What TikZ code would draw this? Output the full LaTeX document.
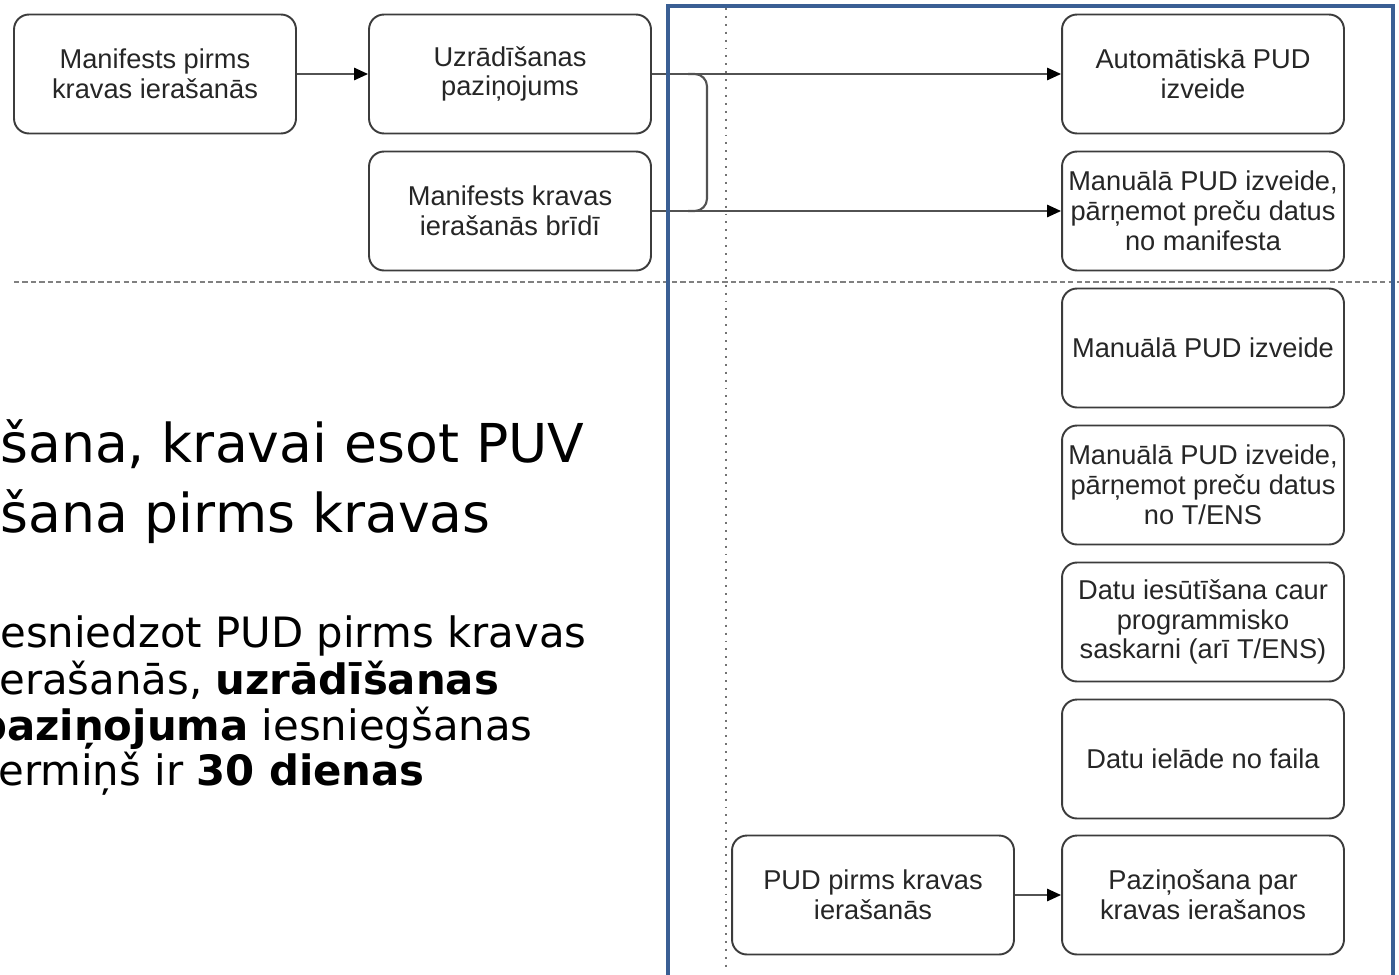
\documentclass[tikz,border=0pt]{standalone}
\usepackage{fontspec}
\setmainfont{Liberation Sans}
\newfontfamily\slidefont{DejaVu Sans}
\usetikzlibrary{arrows.meta}

\definecolor{frameblue}{HTML}{3A5F94}
\definecolor{boxgray}{HTML}{3C3C3C}

\begin{document}
\begin{tikzpicture}[x=0.02cm, y=-0.02cm]

      \useasboundingbox (0,0) rectangle (1399,974);
      \clip (0,0) rectangle (1399,974);

      \draw[black!50, line width=1.2pt, dash pattern=on 3pt off 1.8pt] (14,282) -- (1399,282);
      \draw[black!55, line width=1.3pt, dash pattern=on 1.1pt off 3.4pt] (726,8) -- (726,968);

      \begin{scope}[every node/.style={draw=boxgray, line width=1.1pt, rounded corners=8.5pt, fill=white,
          minimum width=5.64cm, minimum height=2.38cm, inner sep=1pt, align=center, text=black!85,
          font=\fontsize{15.5}{17}\selectfont}]
        \node (manpre)   at (155,74)  {Manifests pirms\\kravas ierašanās};
        \node (uzr)      at (510,74)  {Uzrādīšanas\\paziņojums};
        \node (manbr)    at (510,211) {Manifests kravas\\ierašanās brīdī};
        \node (auto)     at (1203,74)  {Automātiskā PUD\\izveide};
        \node (manmf)    at (1203,211) {Manuālā PUD izveide,\\pārņemot preču datus\\no manifesta};
        \node (manual)   at (1203,348) {Manuālā PUD izveide};
        \node (mantens)  at (1203,485) {Manuālā PUD izveide,\\pārņemot preču datus\\no T/ENS};
        \node (datusut)  at (1203,622) {Datu iesūtīšana caur\\programmisko\\saskarni (arī T/ENS)};
        \node (datufail) at (1203,759) {Datu ielāde no faila};
        \node (pazin)    at (1203,895) {Paziņošana par\\kravas ierašanos};
        \node (pudpre)   at (873,895)  {PUD pirms kravas\\ierašanās};
      \end{scope}

      \begin{scope}[every edge/.style={draw=black!68, line width=1.2pt, -{Triangle[length=8pt,width=7pt,color=black]}}]
        \path (manpre) edge (uzr);
        \path (uzr)    edge (auto);
        \path (manbr)  edge (manmf);
        \path (pudpre) edge (pazin);
      \end{scope}

      \coordinate (brk1) at (688,74);
      \coordinate (brk2) at (707,211);
      \draw[black!68, line width=1.2pt, rounded corners=7pt] (brk1) -| (brk2) -- ++(-19,0);

      \begin{scope}[every node/.style={anchor=base west, inner sep=0pt, text=black}]
        \node[font=\slidefont\fontsize{30.5}{36}\selectfont] (title1) at (0,462) {šana, kravai esot PUV};
        \node[font=\slidefont\fontsize{30.5}{36}\selectfont] (title2) at (0,532) {šana pirms kravas};
        \node[font=\slidefont\fontsize{23.8}{27}\selectfont] (note1) at (0,647)   {esniedzot PUD pirms kravas};
        \node[font=\slidefont\fontsize{23.8}{27}\selectfont] (note2) at (-1,694)  {erašanās, \textbf{uzrādīšanas}};
        \node[font=\slidefont\fontsize{23.8}{27}\selectfont] (note3) at (-23,740) {\textbf{paziņojuma} iesniegšanas};
        \node[font=\slidefont\fontsize{23.8}{27}\selectfont] (note4) at (-2,785)  {ermiņš ir \textbf{30 dienas}};
      \end{scope}

      \draw[frameblue, line width=2.4pt] (668,1000) -- (668,6) -- (1393,6) -- (1393,1000);

    \end{tikzpicture}
\end{document}
